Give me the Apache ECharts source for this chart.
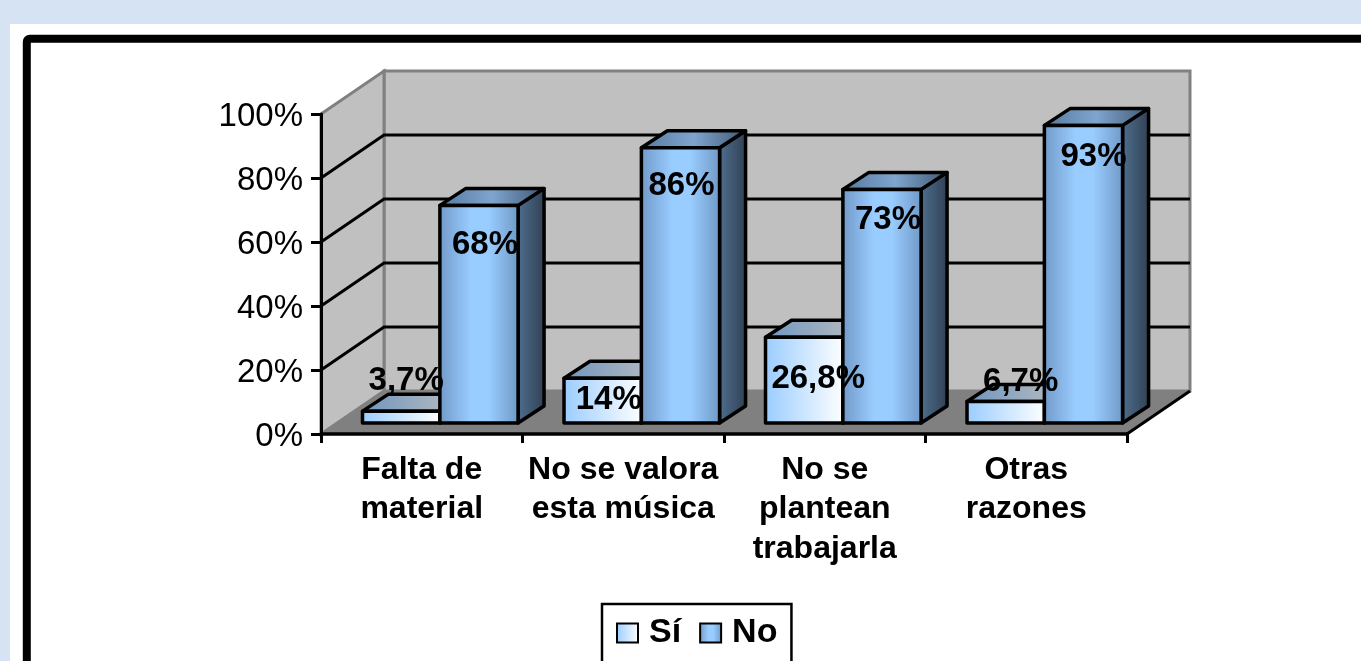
<!DOCTYPE html>
<html><head><meta charset="utf-8">
<style>html,body{margin:0;padding:0;background:#d5e3f3}#c{width:1361px;height:661px}</style>
<script src="https://cdn.jsdelivr.net/npm/echarts@6/dist/echarts.min.js"></script>
</head><body><div id="c"></div>
<script>
const categories = ['Falta de\nmaterial', 'No se valora\nesta música', 'No se\nplantean\ntrabajarla', 'Otras\nrazones'];
const siValues = [3.7, 14, 26.8, 6.7];
const noValues = [68, 86, 73, 93];
const siLabels = ['3,7%', '14%', '26,8%', '6,7%'];
const noLabels = ['68%', '86%', '73%', '93%'];
const yTicks = [0, 20, 40, 60, 80, 100];

// layout constants (pixels)
const WALL = {dx: 63, dy: -43};
const BAR = {dx: 26, dy: -17, baseDy: -11, lw: 3.5};
const BAR_START = -0.294, BAR_MID = 0.09, BAR_END = 0.478; // fractions of category band
const siNudge = [[5, -30], [6, 22], [14, 42], [15, -20]];
const noNudge = [[6, 40], [1, 38], [6, 31], [10, 32]];
const FONT = '"Liberation Sans", Arial, sans-serif';

const grad = (stops, x2, y2) => ({type: 'linear', x: 0, y: 0, x2: x2 === undefined ? 1 : x2, y2: y2 || 0,
  colorStops: stops.map(s => ({offset: s[0], color: s[1]}))});
const SI = {
  front: grad([[0, '#99ccff'], [1, '#ffffff']]),
  top: grad([[0, '#6f95bf'], [1, '#c0c0c0']]),
  side: grad([[0, '#4f6f92'], [1, '#2f3f52']])
};
const NO = {
  front: grad([[0, '#7098c6'], [0.4, '#99ccff'], [0.62, '#99ccff'], [1, '#6e97c4']]),
  top: grad([[0, '#55779c'], [0.5, '#7fa5cf'], [1, '#3f5771']]),
  side: grad([[0, '#50708f'], [1, '#2f3f52']])
};
const lineStyle = {stroke: '#000', lineWidth: BAR.lw, lineJoin: 'round'};

function bar3d(api, from, to, pal) {
  const i = api.value(0), v = api.value(1);
  const band = api.size([1, 0])[0];
  const c0 = api.coord([i, 0]), c1 = api.coord([i, v]);
  const xl = c0[0] + band * from, xr = c0[0] + band * to;
  const yb = c0[1] + BAR.baseDy, yt = c1[1] + BAR.baseDy;
  const dx = BAR.dx, dy = BAR.dy;
  const poly = (pts, fill) => ({type: 'polygon', shape: {points: pts}, style: Object.assign({fill}, lineStyle)});
  return {type: 'group', children: [
    poly([[xr, yb], [xr + dx, yb + dy], [xr + dx, yt + dy], [xr, yt]], pal.side),
    poly([[xl, yt], [xr, yt], [xr + dx, yt + dy], [xl + dx, yt + dy]], pal.top),
    poly([[xl, yb], [xr, yb], [xr, yt], [xl, yt]], pal.front)
  ]};
}

function walls(params, api) {
  const band = api.size([1, 0])[0];
  const xL = api.coord([0, 0])[0] - band / 2, xR = api.coord([categories.length - 1, 0])[0] + band / 2;
  const y0 = api.coord([0, 0])[1], yMax = api.coord([0, yTicks[yTicks.length - 1]])[1];
  const d = WALL, edge = '#808080';
  const ch = [
    {type: 'polygon', shape: {points: [[xL + d.dx, yMax + d.dy], [xR + d.dx, yMax + d.dy], [xR + d.dx, y0 + d.dy], [xL + d.dx, y0 + d.dy]]},
      style: {fill: '#c0c0c0', stroke: edge, lineWidth: 3}},
    {type: 'polygon', shape: {points: [[xL, yMax], [xL + d.dx, yMax + d.dy], [xL + d.dx, y0 + d.dy], [xL, y0]]},
      style: {fill: '#c0c0c0', stroke: edge, lineWidth: 3}},
    {type: 'polygon', shape: {points: [[xL, y0], [xR, y0], [xR + d.dx, y0 + d.dy], [xL + d.dx, y0 + d.dy]]},
      style: {fill: '#808080', stroke: '#808080', lineWidth: 1}}
  ];
  yTicks.forEach(t => {
    const y = api.coord([0, t])[1];
    if (t > 0 && t < 100) {
      ch.push({type: 'polyline', shape: {points: [[xL, y], [xL + d.dx, y + d.dy], [xR + d.dx, y + d.dy]]},
        style: {fill: null, stroke: '#000', lineWidth: 3}});
    }
  });
  ch.push({type: 'polyline', shape: {points: [[xR, y0], [xR + d.dx, y0 + d.dy]]}, style: {fill: null, stroke: '#000', lineWidth: 3}});
  return {type: 'group', children: ch};
}

function labelItem(labels, nudge, from, to) {
  return function (params, api) {
    const i = api.value(0), v = api.value(1);
    const band = api.size([1, 0])[0];
    const c0 = api.coord([i, 0]), c1 = api.coord([i, v]);
    return {type: 'text', style: {
      x: c0[0] + band * (from + to) / 2 + nudge[i][0],
      y: c1[1] + BAR.baseDy + nudge[i][1],
      text: labels[i], fill: '#000', font: 'bold 33px ' + FONT, align: 'center', verticalAlign: 'middle'
    }};
  };
}

const chart = echarts.init(document.getElementById('c'), null, {renderer: 'canvas'});
const toData = a => a.map((v, i) => [i, v]);
chart.setOption({
  animation: false,
  backgroundColor: '#d5e3f3',
  textStyle: {fontFamily: FONT},
  graphic: [
    {type: 'rect', z: 0, shape: {x: 10, y: 24, width: 1400, height: 700}, style: {fill: '#ffffff'}},
    {type: 'rect', z: 0, shape: {x: 26.8, y: 38.7, width: 1400, height: 700, r: 3}, style: {fill: '#ffffff', stroke: '#000', lineWidth: 8}}
  ],
  grid: {left: 321, top: 114, width: 806, height: 320, containLabel: false},
  xAxis: {type: 'category', data: categories, z: 2,
    axisLine: {lineStyle: {color: '#000', width: 3.5}},
    axisTick: {show: true, length: 9, lineStyle: {color: '#000', width: 3}},
    axisLabel: {color: '#000', fontWeight: 'bold', fontSize: 32, fontFamily: FONT, lineHeight: 39.5, margin: 16, interval: 0}},
  yAxis: {type: 'value', min: 0, max: 100, interval: 20, z: 2,
    axisLine: {show: true, lineStyle: {color: '#000', width: 3}},
    axisTick: {show: true, length: 10, lineStyle: {color: '#000', width: 3}},
    splitLine: {show: false},
    axisLabel: {color: '#000', fontSize: 33, fontFamily: FONT, margin: 18, verticalAlign: 'top', lineHeight: 5, formatter: '{value}%'}},
  legend: {data: ['Sí', 'No'], left: 602, top: 604, backgroundColor: '#fff', borderColor: '#000', borderWidth: 2.5,
    padding: [12, 14, 22, 14], itemWidth: 21, itemHeight: 19, itemGap: 18, selectedMode: false, icon: 'rect',
    textStyle: {color: '#000', fontWeight: 'bold', fontSize: 34, fontFamily: FONT, padding: [0, 0, 0, 6]}},
  series: [
    {type: 'custom', name: 'walls', z: 1, silent: true, data: [[0, 0]], renderItem: walls, clip: false},
    {type: 'custom', name: 'Sí', z: 3, data: toData(siValues), clip: false,
      itemStyle: {color: SI.front, borderColor: '#000', borderWidth: 3},
      renderItem: (p, api) => bar3d(api, BAR_START, BAR_MID, SI)},
    {type: 'custom', name: 'No', z: 4, data: toData(noValues), clip: false,
      itemStyle: {color: NO.front, borderColor: '#000', borderWidth: 3},
      renderItem: (p, api) => bar3d(api, BAR_MID, BAR_END, NO)},
    {type: 'custom', name: 'siLabels', z: 6, data: toData(siValues), clip: false, renderItem: labelItem(siLabels, siNudge, BAR_START, BAR_MID)},
    {type: 'custom', name: 'noLabels', z: 6, data: toData(noValues), clip: false, renderItem: labelItem(noLabels, noNudge, BAR_MID, BAR_END)}
  ]
});
</script></body></html>
